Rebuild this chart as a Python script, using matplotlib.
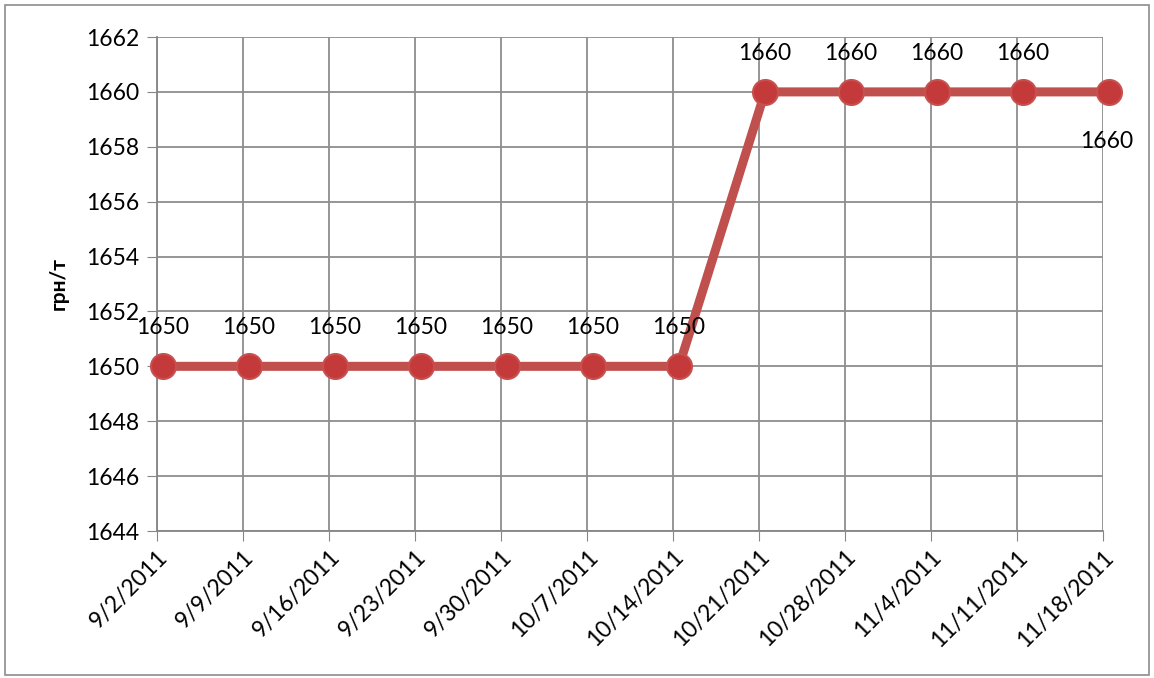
import matplotlib.pyplot as plt
import matplotlib.patches as mpatches

dates = ["9/2/2011", "9/9/2011", "9/16/2011", "9/23/2011", "9/30/2011", "10/7/2011",
         "10/14/2011", "10/21/2011", "10/28/2011", "11/4/2011", "11/11/2011", "11/18/2011"]
prices = [1650, 1650, 1650, 1650, 1650, 1650, 1650, 1660, 1660, 1660, 1660, 1660]

plt.rcParams['font.family'] = ['Lato', 'DejaVu Sans']

fig = plt.figure(figsize=(11.54, 6.78), dpi=100)
ax = fig.add_axes([157/1154, 1-531/678, (1103-157)/1154, (531-37)/678])

# outer chart border
fig.patches.append(mpatches.Rectangle((5/1154, 3/678), 1144/1154, 670/678, transform=fig.transFigure,
                                      fill=False, edgecolor='#8c8c8c', linewidth=1.2))

x = list(range(len(dates)))
off = 0.07  # points sit a bit right of the gridlines
ax.plot(x, prices, color='#C0504D', linewidth=6.5, zorder=3, clip_on=False)
ax.plot(x, prices, linestyle='none', marker='o', markersize=18, markerfacecolor='#C43A3A',
        markeredgecolor='#C8504E', markeredgewidth=1.5, zorder=4, clip_on=False)

for i, v in enumerate(prices):
    if i == len(prices) - 1:
        ax.annotate(str(v), (i, v), xytext=(-2, -36), textcoords='offset points',
                    ha='center', va='center', fontsize=16.5, annotation_clip=False)
    else:
        ax.annotate(str(v), (i, v), xytext=(0, 28), textcoords='offset points',
                    ha='center', va='center', fontsize=16.5, annotation_clip=False)

ax.set_xlim(-off, len(dates) - 1 - off)
ax.set_ylim(1644, 1662)
ax.set_yticks(range(1644, 1663, 2))
ax.set_xticks([i - off for i in x])
ax.set_xticklabels(dates, rotation=45, ha='right', rotation_mode='anchor', fontsize=16.5)
ax.tick_params(axis='y', labelsize=16.5, length=7, color='#868686', pad=6)
ax.tick_params(axis='x', length=7, color='#868686', pad=4)
ax.grid(True, color='#8e8e8e', linewidth=1.3)
ax.set_axisbelow(True)
for s in ['top', 'right']:
    ax.spines[s].set_visible(False)
for s in ['left', 'bottom']:
    ax.spines[s].set_color('#868686')
    ax.spines[s].set_linewidth(1.3)

ax.set_ylabel('грн/т', fontsize=15, fontweight='bold', labelpad=12)

fig.savefig('out.png', dpi=100)
